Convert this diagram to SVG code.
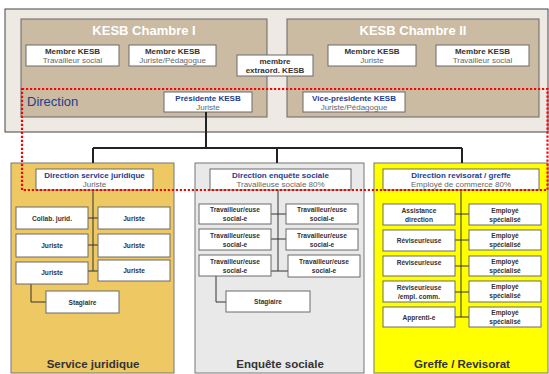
<svg xmlns="http://www.w3.org/2000/svg" width="549" height="374" viewBox="0 0 549 374">
<style>
text{font-family:"Liberation Sans",Arial,sans-serif;text-anchor:middle}
.wb{fill:#fff;stroke:#6b6b6b;stroke-width:1}
.h{font-size:8px;font-weight:bold;fill:#333}
.hb{font-size:8px;font-weight:bold;fill:#23408e}
.s{font-size:8px;fill:#666}
.n{font-size:6.6px;font-weight:bold;fill:#333}
.t{font-size:13px;font-weight:bold;fill:#fff}
.lbl{font-size:11.5px;font-weight:bold;fill:#333}
.c{fill:none;stroke:#333;stroke-width:1}
.ct{fill:none;stroke:#222;stroke-width:2}
</style>
<rect x="0" y="0" width="549" height="374" fill="#fff"/>
<g id="kesb">
<rect x="5" y="9" width="543" height="123" fill="#eee9e2" stroke="#444" stroke-width="1"/>
</g>
<g id="chambre1">
<rect x="21" y="19" width="246" height="98" fill="#cbbba3" stroke="#666" stroke-width="1"/>
<text class="t" x="144" y="35">KESB Chambre I</text>
</g>
<g id="chambre2">
<rect x="287" y="19" width="252" height="98" fill="#cbbba3" stroke="#666" stroke-width="1"/>
<text class="t" x="413" y="35">KESB Chambre II</text>
</g>
<g id="m1"><rect class="wb" x="26" y="45" width="93" height="21"/><text class="h" x="72.5" y="54">Membre KESB</text><text class="s" x="72.5" y="63">Travailleur social</text></g>
<g id="m2"><rect class="wb" x="129" y="45" width="87" height="21"/><text class="h" x="172.5" y="54">Membre KESB</text><text class="s" x="172.5" y="63">Juriste/Pédagogue</text></g>
<g id="mx"><rect class="wb" x="237" y="55" width="76" height="21"/><text class="h" x="275" y="64">membre</text><text class="h" x="275" y="73">extraord. KESB</text></g>
<g id="m3"><rect class="wb" x="328" y="45" width="88" height="21"/><text class="h" x="372" y="54">Membre KESB</text><text class="s" x="372" y="63">Juriste</text></g>
<g id="m4"><rect class="wb" x="436" y="45" width="93" height="21"/><text class="h" x="482.5" y="54">Membre KESB</text><text class="s" x="482.5" y="63">Travailleur social</text></g>
<g id="pres"><rect class="wb" x="164" y="92" width="88" height="20"/><text class="hb" x="208" y="101">Présidente KESB</text><text class="s" x="208" y="110">Juriste</text></g>
<g id="vice"><rect class="wb" x="303" y="92" width="102" height="20"/><text class="hb" x="354" y="101">Vice-présidente KESB</text><text class="s" x="354" y="110">Juriste/Pédagogue</text></g>

<g id="sj">
<rect x="11" y="163" width="163" height="210" fill="#eec862" stroke="#777" stroke-width="1"/>
<text class="lbl" x="93" y="368">Service juridique</text>
</g>
<g id="es">
<rect x="195" y="163" width="169" height="210" fill="#e9e9e9" stroke="#777" stroke-width="1"/>
<text class="lbl" x="280" y="368">Enquête sociale</text>
</g>
<g id="gr">
<rect x="374" y="163" width="174" height="210" fill="#ffff00" stroke="#777" stroke-width="1"/>
<text class="lbl" x="462" y="368">Greffe / Revisorat</text>
</g>

<g id="connectors">
<path class="ct" d="M206 112V148M93 148H462M93 148V163M277 148V163M462 148V163"/>
<path class="c" d="M93 190V271M88 218H98M88 245H98M88 271H98M31 284V302H46"/>
<path class="c" d="M278 190V271M271 214H286M271 239H286M271 271H288M216 276V302H226"/>
<path class="c" d="M461 190V317M455 214H469M455 240H469M455 266H469M455 292H469M455 317H469"/>
</g>

<g id="dsj"><rect class="wb" x="36" y="169" width="117" height="21"/><text class="hb" x="94.5" y="178">Direction service juridique</text><text class="s" x="94.5" y="187">Juriste</text></g>
<g id="sj1"><rect class="wb" x="16" y="207" width="72" height="22"/><text class="n" x="52" y="220.5">Collab. jurid.</text></g>
<g id="sj2"><rect class="wb" x="98" y="207" width="72" height="22"/><text class="n" x="134" y="220.5">Juriste</text></g>
<g id="sj3"><rect class="wb" x="16" y="234" width="72" height="23"/><text class="n" x="52" y="248">Juriste</text></g>
<g id="sj4"><rect class="wb" x="98" y="234" width="72" height="23"/><text class="n" x="134" y="248">Juriste</text></g>
<g id="sj5"><rect class="wb" x="16" y="262" width="72" height="22"/><text class="n" x="52" y="275">Juriste</text></g>
<g id="sj6"><rect class="wb" x="98" y="260" width="72" height="21"/><text class="n" x="134" y="273">Juriste</text></g>
<g id="sj7"><rect class="wb" x="46" y="291" width="73" height="22"/><text class="n" x="82.5" y="304.5">Stagiaire</text></g>

<g id="des"><rect class="wb" x="210" y="169" width="141" height="21"/><text class="hb" x="280.5" y="178">Direction enquête sociale</text><text class="s" x="280.5" y="187">Travailleuse sociale 80%</text></g>
<g id="es1"><rect class="wb" x="199" y="204" width="72" height="20"/><text class="n" x="235" y="212">Travailleur/euse</text><text class="n" x="235" y="220.5">social-e</text></g>
<g id="es2"><rect class="wb" x="286" y="204" width="72" height="20"/><text class="n" x="322" y="212">Travailleur/euse</text><text class="n" x="322" y="220.5">social-e</text></g>
<g id="es3"><rect class="wb" x="199" y="229" width="72" height="21"/><text class="n" x="235" y="237.5">Travailleur/euse</text><text class="n" x="235" y="246.5">social-e</text></g>
<g id="es4"><rect class="wb" x="286" y="229" width="72" height="21"/><text class="n" x="322" y="237.5">Travailleur/euse</text><text class="n" x="322" y="246.5">social-e</text></g>
<g id="es5"><rect class="wb" x="199" y="255" width="72" height="21"/><text class="n" x="235" y="263.5">Travailleur/euse</text><text class="n" x="235" y="272.5">social-e</text></g>
<g id="es6"><rect class="wb" x="288" y="255" width="72" height="22"/><text class="n" x="324" y="264">Travailleur/euse</text><text class="n" x="324" y="273">social-e</text></g>
<g id="es7"><rect class="wb" x="226" y="291" width="84" height="21"/><text class="n" x="268" y="304">Stagiaire</text></g>

<g id="drg"><rect class="wb" x="383" y="169" width="156" height="21"/><text class="hb" x="461" y="178">Direction revisorat / greffe</text><text class="s" x="461" y="187">Employé de commerce 80%</text></g>
<g id="g1"><rect class="wb" x="383" y="204" width="72" height="21"/><text class="n" x="419" y="212.5">Assistance</text><text class="n" x="419" y="221.5">direction</text></g>
<g id="g2"><rect class="wb" x="383" y="230" width="72" height="21"/><text class="n" x="419" y="243">Réviseur/euse</text></g>
<g id="g3"><rect class="wb" x="383" y="256" width="72" height="20"/><text class="n" x="419" y="264.5">Réviseur/euse</text></g>
<g id="g4"><rect class="wb" x="383" y="281" width="72" height="21"/><text class="n" x="419" y="289.5">Réviseur/euse</text><text class="n" x="419" y="298.5">/empl. comm.</text></g>
<g id="g5"><rect class="wb" x="383" y="307" width="72" height="20"/><text class="n" x="419" y="319.5">Apprenti-e</text></g>
<g id="g6"><rect class="wb" x="469" y="204" width="72" height="21"/><text class="n" x="505" y="212.5">Employé</text><text class="n" x="505" y="221.5">spécialisé</text></g>
<g id="g7"><rect class="wb" x="469" y="230" width="72" height="20"/><text class="n" x="505" y="238">Employé</text><text class="n" x="505" y="247">spécialisé</text></g>
<g id="g8"><rect class="wb" x="469" y="256" width="72" height="20"/><text class="n" x="505" y="263.5">Employé</text><text class="n" x="505" y="272.5">spécialisé</text></g>
<g id="g9"><rect class="wb" x="469" y="281" width="72" height="21"/><text class="n" x="505" y="289">Employé</text><text class="n" x="505" y="298">spécialisé</text></g>
<g id="g10"><rect class="wb" x="469" y="307" width="72" height="20"/><text class="n" x="505" y="315">Employé</text><text class="n" x="505" y="324">spécialisé</text></g>

<g id="direction">
<rect x="22" y="89" width="525.5" height="101" fill="none" stroke="#ff0000" stroke-width="2.2" stroke-dasharray="2.2,1.8"/>
<text x="27" y="106" style="text-anchor:start;font-size:13px;fill:#23408e">Direction</text>
</g>
</svg>
